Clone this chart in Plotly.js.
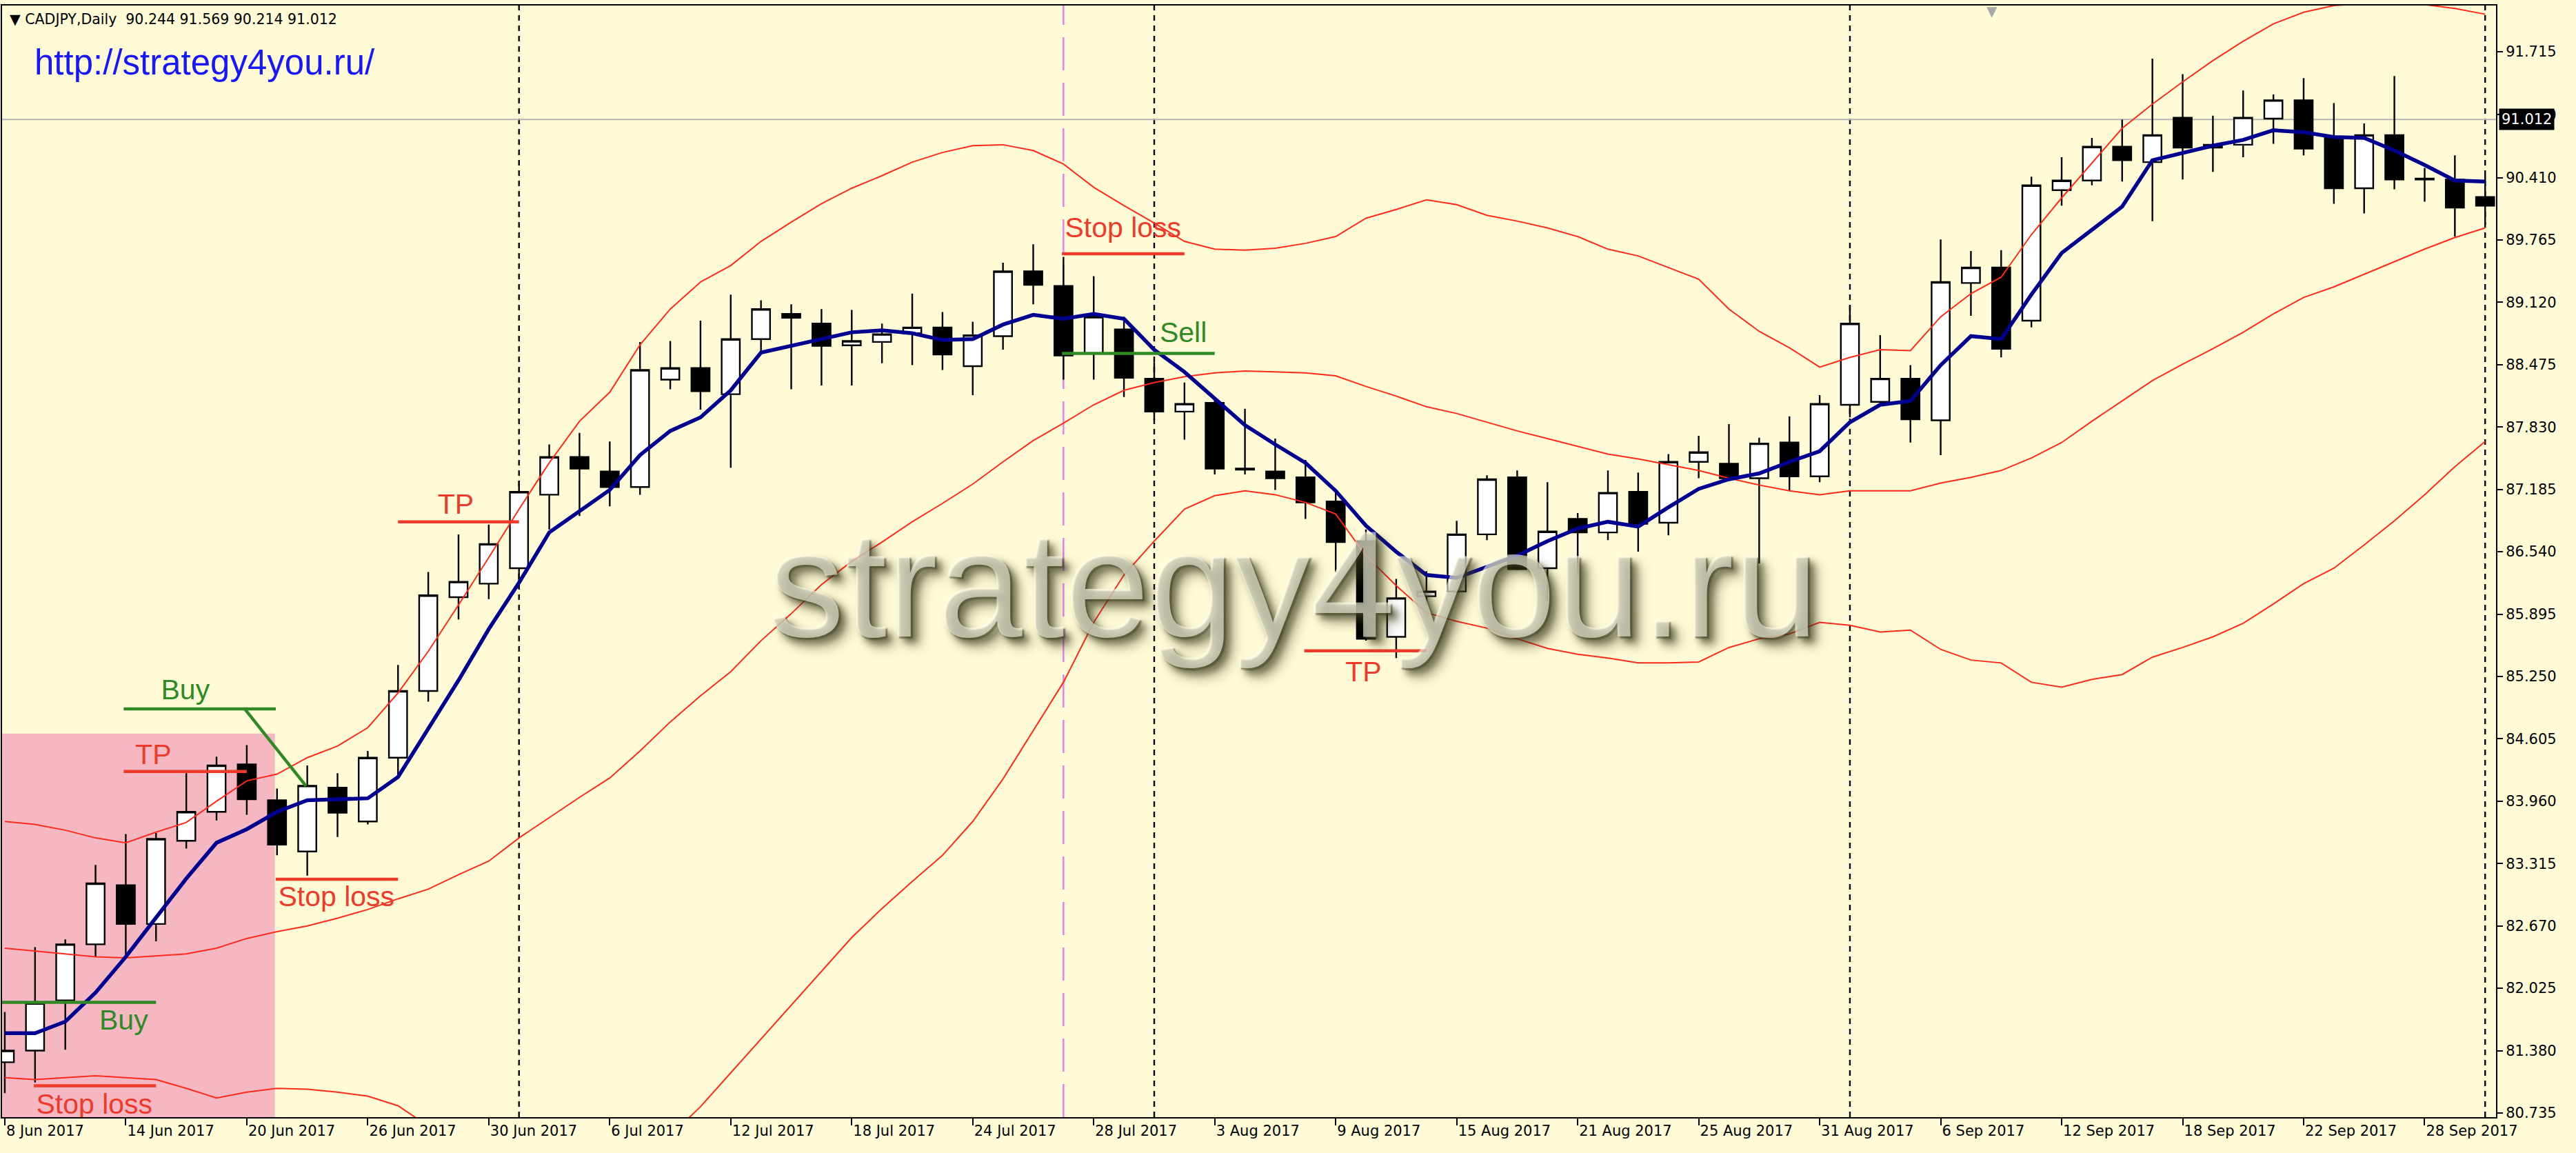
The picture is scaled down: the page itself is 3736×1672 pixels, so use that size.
<!DOCTYPE html>
<html>
<head>
<meta charset="utf-8">
<script src="https://cdn.plot.ly/plotly-3.0.1.min.js"></script>
<style>
  html, body { margin: 0; padding: 0; background: #FFFBD6; }
  #chart { width: 3736px; height: 1672px; }
</style>
</head>
<body>
<div id="chart"></div>
<script>
// ---------- DATA (CADJPY, Daily) ----------
const openP = [81.26,81.38,81.90,82.48,83.09,82.69,83.55,83.85,84.34,83.97,
  83.44,84.10,83.75,84.41,85.10,86.07,86.21,86.37,87.13,87.52,
  87.37,87.21,88.32,88.44,88.17,88.74,89.00,88.90,88.675,88.71,
  88.80,88.86,88.46,88.77,89.44,89.29,88.59,88.84,88.33,87.99,
  88.08,87.40,87.37,87.31,87.06,86.65,85.66,86.08,86.13,86.72,
  87.31,86.37,86.88,86.74,87.16,86.84,87.47,87.45,87.30,87.67,
  87.32,88.06,88.09,88.33,87.90,89.32,89.48,88.93,90.28,90.38,
  90.73,90.57,91.03,90.75,90.75,91.02,91.21,90.82,90.30,90.85,
  90.40,90.39,90.21];
const highP = [81.78,82.45,82.53,83.30,83.62,83.63,84.25,84.42,84.54,84.09,
  84.33,84.25,84.48,85.37,86.33,86.72,86.82,87.27,87.65,87.77,
  87.68,88.71,88.72,88.93,89.20,89.14,89.10,89.05,89.04,88.90,
  89.21,89.02,88.92,89.53,89.72,89.59,89.39,88.97,88.50,88.29,
  88.12,88.02,87.71,87.49,87.16,86.77,86.26,86.34,86.86,87.33,
  87.38,87.26,86.94,87.38,87.36,87.55,87.74,87.86,87.72,87.94,
  88.16,89.08,88.78,88.47,89.77,89.65,89.66,90.42,90.62,90.82,
  91.01,91.64,91.48,91.05,91.31,91.27,91.44,91.18,90.97,91.46,
  90.51,90.64,90.43];
const lowP = [80.94,81.05,81.39,82.35,82.37,82.51,83.47,83.76,83.82,83.40,
  83.19,83.59,83.72,84.21,84.99,85.84,86.05,86.16,86.77,86.91,
  87.01,87.13,88.22,88.01,87.41,88.58,88.22,88.26,88.26,88.49,
  88.47,88.42,88.16,88.63,89.10,88.32,88.32,88.14,87.90,87.70,
  87.34,87.34,87.18,86.88,86.33,85.62,85.44,85.99,86.11,86.66,
  86.35,86.03,86.30,86.66,86.54,86.71,87.30,87.29,86.42,87.17,
  87.26,87.93,88.09,87.67,87.54,88.98,88.55,88.86,90.12,90.33,
  90.37,89.96,90.39,90.47,90.62,90.76,90.64,90.14,90.04,90.29,
  90.16,89.80,89.92];
const closeP = [81.38,81.87,82.48,83.11,82.69,83.57,83.85,84.33,83.98,83.51,
  84.12,83.84,84.41,85.10,86.09,86.23,86.62,87.16,87.52,87.40,
  87.21,88.42,88.44,88.20,88.74,89.05,88.96,88.67,88.72,88.79,
  88.86,88.58,88.78,89.44,89.30,88.57,88.97,88.34,87.99,88.07,
  87.40,87.39,87.30,87.05,86.64,85.64,86.06,86.13,86.72,87.29,
  86.36,86.75,86.74,87.15,86.83,87.47,87.57,87.30,87.66,87.32,
  88.07,88.90,88.33,87.91,89.33,89.48,88.64,90.33,90.38,90.73,
  90.59,90.85,90.72,90.72,91.03,91.21,90.71,90.30,90.85,90.39,
  90.39,90.10,90.12];

// blue moving average
const maLine = [81.56,81.56,81.68,81.98,82.35,82.76,83.16,83.53,83.67,83.85,
  83.97,83.98,83.99,84.21,84.71,85.21,85.74,86.22,86.74,86.96,
  87.18,87.54,87.79,87.93,88.21,88.60,88.67,88.74,88.81,88.83,
  88.80,88.73,88.74,88.89,88.99,88.95,89.00,88.95,88.63,88.40,
  88.13,87.85,87.65,87.46,87.17,86.81,86.54,86.30,86.27,86.38,
  86.50,86.65,86.78,86.85,86.80,87.00,87.19,87.29,87.35,87.47,
  87.58,87.88,88.06,88.10,88.47,88.77,88.74,89.20,89.63,89.87,
  90.11,90.59,90.67,90.74,90.80,90.90,90.88,90.83,90.82,90.69,
  90.54,90.38,90.37];

// red Bollinger bands
const bandUpper = [83.75,83.72,83.66,83.58,83.53,83.64,83.74,83.96,84.17,84.24,
  84.41,84.53,84.72,85.08,85.51,85.99,86.48,86.98,87.46,87.89,
  88.19,88.68,89.05,89.33,89.50,89.75,89.95,90.14,90.30,90.43,
  90.57,90.67,90.74,90.75,90.69,90.55,90.31,90.12,89.94,89.75,
  89.67,89.66,89.68,89.73,89.80,89.99,90.08,90.18,90.13,90.02,
  89.96,89.89,89.80,89.67,89.60,89.48,89.36,89.05,88.82,88.65,
  88.45,88.55,88.63,88.62,88.97,89.21,89.38,89.82,90.20,90.56,
  90.92,91.17,91.40,91.62,91.82,92.00,92.12,92.19,92.21,92.21,
  92.20,92.16,92.10];
const bandMiddle = [82.44,82.41,82.38,82.35,82.34,82.36,82.38,82.44,82.54,82.61,
  82.67,82.75,82.84,82.95,83.05,83.20,83.34,83.58,83.79,84.00,
  84.20,84.48,84.78,85.05,85.30,85.62,85.90,86.20,86.44,86.64,
  86.85,87.04,87.24,87.47,87.69,87.87,88.06,88.21,88.29,88.35,
  88.39,88.41,88.40,88.39,88.36,88.25,88.15,88.04,87.97,87.88,
  87.79,87.71,87.63,87.55,87.50,87.44,87.38,87.30,87.23,87.17,
  87.13,87.17,87.17,87.17,87.25,87.31,87.38,87.51,87.67,87.89,
  88.10,88.31,88.48,88.64,88.81,89.00,89.17,89.28,89.41,89.54,
  89.67,89.79,89.89];
const bandLower = [81.10,81.08,81.10,81.12,81.10,81.08,80.99,80.89,80.95,80.99,
  80.98,80.95,80.91,80.81,80.60,80.41,80.20,80.18,80.11,80.11,
  80.22,80.27,80.50,80.80,81.15,81.50,81.85,82.20,82.55,82.85,
  83.13,83.40,83.75,84.19,84.69,85.19,85.81,86.30,86.65,86.98,
  87.12,87.17,87.13,87.05,86.93,86.50,86.19,85.91,85.82,85.75,
  85.64,85.54,85.48,85.44,85.39,85.39,85.40,85.55,85.64,85.69,
  85.81,85.78,85.71,85.73,85.53,85.42,85.39,85.19,85.14,85.22,
  85.27,85.45,85.55,85.66,85.80,86.00,86.21,86.37,86.61,86.86,
  87.13,87.42,87.68];

// x tick labels (every 4th bar)
const xTickIdx = [0,4,8,12,16,20,24,28,32,36,40,44,48,52,56,60,64,68,72,76,80];
const xTickLabels = ['8 Jun 2017','14 Jun 2017','20 Jun 2017','26 Jun 2017','30 Jun 2017',
  '6 Jul 2017','12 Jul 2017','18 Jul 2017','24 Jul 2017','28 Jul 2017','3 Aug 2017',
  '9 Aug 2017','15 Aug 2017','21 Aug 2017','25 Aug 2017','31 Aug 2017','6 Sep 2017',
  '12 Sep 2017','18 Sep 2017','22 Sep 2017','28 Sep 2017'];

// y tick labels (price scale)
const yTickVals = [80.735,81.380,82.025,82.670,83.315,83.960,84.605,85.250,85.895,
  86.540,87.185,87.830,88.475,89.120,89.765,90.410,91.060,91.715];
const yTickLabels = ['80.735','81.380','82.025','82.670','83.315','83.960','84.605','85.250','85.895',
  '86.540','87.185','87.830','88.475','89.120','89.765','90.410','91.060','91.715'];

// month separators (bar index) and marked bar
const monthSeparators = [17, 38, 61, 82];
const markedBar = [35];

// trade marks: price levels drawn from bar to bar
const tradeNames  = ['Buy','Stop loss','TP','Buy','Stop loss','TP','Stop loss','Sell','TP'];
const tradeKinds  = ['buy','stop','tp','buy','stop','tp','stop','sell','tp'];
const tradePrice  = [81.879,81.016,84.268,84.915,83.153,86.849,89.622,88.592,85.515];
const tradeFrom   = [-0.2,0.96,3.93,3.93,8.96,13.0,34.95,34.95,42.96];
const tradeTo     = [5.0,5.0,8.0,8.96,13.0,17.0,39.0,40.0,47.0];
// label anchor (bar, price)
const labelBar    = [3.93,2.96,4.91,5.97,10.96,14.91,36.97,38.96,44.92];
const labelPrice  = [81.673,80.80,84.42,85.09,82.946,87.006,89.864,88.783,85.272];
// entry link (from level to candle)
const linkBars   = [7.93, 9.96];
const linkPrices = [84.915, 84.116];
// highlighted zone
const zoneBars   = [-1, 8.93];
const zonePrices = [80.0, 84.66];

const bidPrice = 91.012;
const headerText = '▼ CADJPY,Daily\u00a0\u00a090.244 91.569 90.214 91.012';

// ---------- STYLE ----------
const BG = '#FFFBD6';
const RED = '#FF2A1A';
const TRADE_RED = '#EE3A2A';
const GREEN = '#2F8A25';
const AXFONT = {family: 'Tahoma, "DejaVu Sans", sans-serif', size: 21, color: '#000000'};
const idx = openP.map((_, i) => i);

const traces = [];
traces.push({type:'scatter', mode:'lines', x: idx, y: bandUpper, line:{color:RED, width:2}, hoverinfo:'skip'});
traces.push({type:'scatter', mode:'lines', x: idx, y: bandMiddle, line:{color:RED, width:2}, hoverinfo:'skip'});
traces.push({type:'scatter', mode:'lines', x: idx, y: bandLower, line:{color:RED, width:2}, hoverinfo:'skip'});
traces.push({
  type:'candlestick', x: idx, open: openP, high: highP, low: lowP, close: closeP,
  increasing: {line:{color:'#000000', width:2.4}, fillcolor:'#FFFFFF'},
  decreasing: {line:{color:'#000000', width:2.4}, fillcolor:'#000000'},
  whiskerwidth: 0, hoverinfo:'skip'
});
traces.push({type:'scatter', mode:'lines', x: idx, y: maLine, line:{color:'#000090', width:5.5}, hoverinfo:'skip'});

// trade level lines
tradeNames.forEach((n, k) => {
  const col = (tradeKinds[k] === 'buy' || tradeKinds[k] === 'sell') ? GREEN : TRADE_RED;
  traces.push({type:'scatter', mode:'lines', x:[tradeFrom[k], tradeTo[k]], y:[tradePrice[k], tradePrice[k]],
    line:{color:col, width:4.5}, hoverinfo:'skip'});
  traces.push({type:'scatter', mode:'text', x:[labelBar[k]], y:[labelPrice[k]], text:[n],
    textposition:'middle center', cliponaxis:true,
    textfont:{family:'"Liberation Sans", Arial, sans-serif', size:41, color:col}, hoverinfo:'skip'});
});
traces.push({type:'scatter', mode:'lines', x: linkBars, y: linkPrices, line:{color:GREEN, width:4.5}, hoverinfo:'skip'});

const shapes = [];
shapes.push({type:'rect', xref:'x', yref:'y', x0: zoneBars[0], x1: zoneBars[1], y0: zonePrices[0], y1: zonePrices[1],
  fillcolor:'#F5B8C2', line:{width:0}, layer:'below'});
monthSeparators.forEach(b => shapes.push({type:'line', xref:'x', yref:'paper', x0:b, x1:b, y0:0, y1:1,
  line:{color:'#000000', width:2.4, dash:'8px,7px'}, layer:'below'}));
markedBar.forEach(b => shapes.push({type:'line', xref:'x', yref:'paper', x0:b, x1:b, y0:0, y1:1,
  line:{color:'#E080F0', width:2.4, dash:'48px,18px'}, layer:'below'}));
shapes.push({type:'line', xref:'paper', yref:'y', x0:0, x1:1, y0:bidPrice, y1:bidPrice,
  line:{color:'#B4B4B4', width:2}, layer:'below'});

const annotations = [
  {xref:'paper', yref:'paper', x:0.0025, y:0.9876, xanchor:'left', yanchor:'middle', showarrow:false,
   text: headerText, font:{family:'Tahoma, "DejaVu Sans", sans-serif', size:20.5, color:'#000000'}},
  {xref:'paper', yref:'paper', x:0.0124, y:0.9491, xanchor:'left', yanchor:'middle', showarrow:false,
   text:'http://strategy4you.ru/', font:{family:'"Liberation Sans", Arial, sans-serif', size:51, color:'#1616FF'}},
  {xref:'paper', yref:'paper', x:0.5178, y:0.480, xanchor:'center', yanchor:'middle', showarrow:false,
   text:'strategy4you.ru', font:{family:'"Liberation Sans", Arial, sans-serif', size:221,
   color:'rgba(255,255,238,0.6)',
   shadow:'3px 3px 2px rgba(60,60,30,0.9), 9px 9px 10px rgba(55,55,25,0.95), 14px 14px 18px rgba(70,70,40,0.7)'}},
  {xref:'paper', yref:'y', x:1, y:bidPrice, xanchor:'left', yanchor:'middle', xshift:4, showarrow:false,
   text:'91.012', bgcolor:'#000000', borderpad:3, font:{family:'Tahoma, "DejaVu Sans", sans-serif', size:21, color:'#FFFFFF'}},
  {xref:'paper', yref:'paper', x:0.798, y:1, xanchor:'center', yanchor:'top', yshift:6, showarrow:false,
   text:'▼', font:{family:'"DejaVu Sans", sans-serif', size:20, color:'#A8A8A8'}}
];

const layout = {
  width: 3736, height: 1672,
  margin: {l:3, r:116, t:8, b:52, pad:0},
  paper_bgcolor: BG, plot_bgcolor: BG,
  showlegend: false,
  boxgap: 0.4, boxgroupgap: 0,
  xaxis: {
    range: [-0.09, 82.36], showgrid:false, zeroline:false,
    tickmode:'array', tickvals: xTickIdx, ticktext: xTickLabels,
    ticks:'outside', ticklen:10, tickwidth:2, tickcolor:'#000000',
    ticklabelposition:'outside right',
    showline:true, linecolor:'#000000', linewidth:2, mirror:true,
    tickfont: AXFONT, rangeslider:{visible:false}, fixedrange:true
  },
  yaxis: {
    side:'right', range:[80.692, 92.19], showgrid:false, zeroline:false,
    tickmode:'array', tickvals: yTickVals, ticktext: yTickLabels,
    ticks:'outside', ticklen:8, tickwidth:2, tickcolor:'#000000',
    showline:true, linecolor:'#000000', linewidth:2, mirror:true,
    tickfont: AXFONT, fixedrange:true
  },
  shapes: shapes,
  annotations: annotations
};

Plotly.newPlot('chart', traces, layout, {staticPlot:true, displayModeBar:false});
</script>
</body>
</html>
